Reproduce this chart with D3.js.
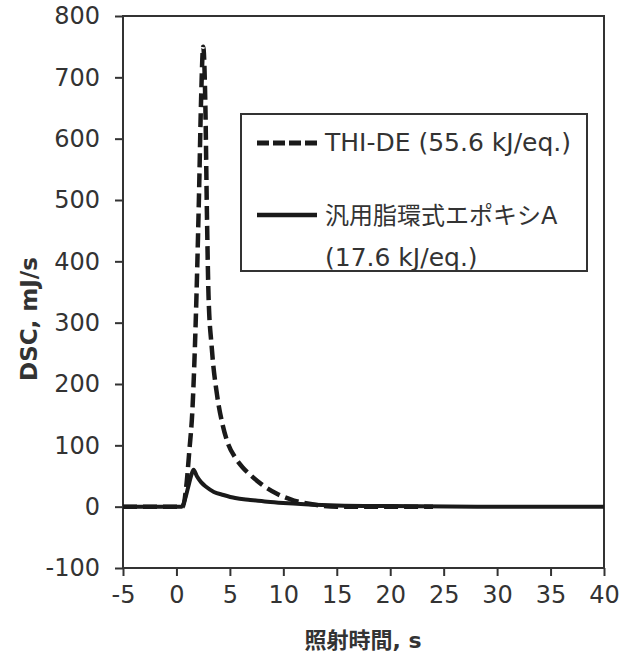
<!DOCTYPE html>
<html>
<head>
<meta charset="utf-8">
<script src="https://cdn.jsdelivr.net/npm/d3@7"></script>
<style>
  body { margin: 0; background: #fff; }
  svg text { font-family: "DejaVu Sans", "Noto Sans CJK JP", sans-serif; fill: #333; }
</style>
</head>
<body>
<svg id="chart" width="631" height="657"></svg>
<script>
// THI-DE (dashed)
var thiTime  = [-5, 0, 0.6, 0.9, 1.2, 1.5, 1.8, 2.1, 2.3, 2.5, 2.7, 2.85, 3.0, 3.3, 3.8, 4.3, 4.8, 5.5, 6.2, 6.9, 8.0, 9.4, 11, 13, 15, 20, 24];
var thiValue = [0, 0, 0, 30, 90, 160, 300, 500, 660, 750, 660, 480, 345, 260, 182, 135, 104, 80, 64, 52, 36, 21, 10, 3, 0, 0, 0];
// generic cycloaliphatic epoxy A (solid)
var epoTime  = [-5, 0, 0.5, 0.8, 1.1, 1.4, 1.6, 1.9, 2.3, 2.8, 3.5, 4.4, 5.5, 6.9, 8.5, 10, 12, 15, 20, 30, 40];
var epoValue = [0, 0, 0, 12, 32, 52, 60, 50, 40, 32, 24, 19, 14, 11, 8, 6, 4, 2, 1, 0, 0];

var xTicks = [-5, 0, 5, 10, 15, 20, 25, 30, 35, 40];
var yTicks = [-100, 0, 100, 200, 300, 400, 500, 600, 700, 800];

var svg = d3.select("#chart"),
    margin = {top: 16, right: 27, bottom: 89, left: 123},
    width = +svg.attr("width") - margin.left - margin.right,
    height = +svg.attr("height") - margin.top - margin.bottom;

var x = d3.scaleLinear().domain([-5, 40]).range([margin.left, margin.left + width]);
var y = d3.scaleLinear().domain([-100, 800]).range([margin.top + height, margin.top]);

var axisColor = "#333";

// x axis
var gx = svg.append("g")
    .attr("transform", "translate(0," + (margin.top + height) + ")")
    .call(d3.axisBottom(x).tickValues(xTicks).tickFormat(d => String(d))
        .tickSize(8).tickSizeOuter(0).tickPadding(10));
gx.select(".domain").remove();
gx.selectAll("line").attr("stroke", axisColor).attr("stroke-width", 2);
gx.selectAll("text").attr("font-size", 24).style("fill", axisColor);

// y axis
var gy = svg.append("g")
    .attr("transform", "translate(" + margin.left + ",0)")
    .call(d3.axisLeft(y).tickValues(yTicks).tickFormat(d => String(d))
        .tickSize(8).tickSizeOuter(0).tickPadding(15));
gy.select(".domain").remove();
gy.selectAll("line").attr("stroke", axisColor).attr("stroke-width", 2);
gy.selectAll("text").attr("font-size", 24).style("fill", axisColor);

// frame
svg.append("rect")
    .attr("x", margin.left).attr("y", margin.top)
    .attr("width", width).attr("height", height)
    .attr("fill", "none").attr("stroke", axisColor).attr("stroke-width", 2);

var line = d3.line()
    .curve(d3.curveMonotoneX)
    .x(d => x(d[0]))
    .y(d => y(d[1]));

var epoData = epoTime.map((t, i) => [t, epoValue[i]]);
var thiData = thiTime.map((t, i) => [t, thiValue[i]]);

svg.append("path")
    .attr("d", line(epoData))
    .attr("fill", "none").attr("stroke", "#1a1a1a").attr("stroke-width", 4);

svg.append("path")
    .attr("d", line(thiData))
    .attr("fill", "none").attr("stroke", "#1a1a1a").attr("stroke-width", 4.5)
    .attr("stroke-dasharray", "14,6");

// legend
var lg = svg.append("g");
lg.append("rect")
    .attr("x", 241).attr("y", 114).attr("width", 346).attr("height", 157)
    .attr("fill", "#fff").attr("stroke", axisColor).attr("stroke-width", 2);
lg.append("line").attr("x1", 257).attr("x2", 317).attr("y1", 143).attr("y2", 143)
    .attr("stroke", "#1a1a1a").attr("stroke-width", 5).attr("stroke-dasharray", "12,4");
lg.append("line").attr("x1", 257).attr("x2", 317).attr("y1", 215).attr("y2", 215)
    .attr("stroke", "#1a1a1a").attr("stroke-width", 4.5);
lg.append("text").attr("x", 325).attr("y", 151).attr("font-size", 25).text("THI-DE (55.6 kJ/eq.)");
lg.append("text").attr("x", 325).attr("y", 224).attr("font-size", 24).text("汎用脂環式エポキシA");
lg.append("text").attr("x", 325).attr("y", 266).attr("font-size", 25).text("(17.6 kJ/eq.)");

// axis titles
svg.append("text")
    .attr("transform", "translate(37,319) rotate(-90)")
    .attr("text-anchor", "middle").attr("font-size", 23).attr("font-weight", "bold")
    .text("DSC, mJ/s");
svg.append("text")
    .attr("x", 363).attr("y", 648)
    .attr("text-anchor", "middle").attr("font-size", 22).attr("font-weight", "bold")
    .text("照射時間, s");
</script>
</body>
</html>
